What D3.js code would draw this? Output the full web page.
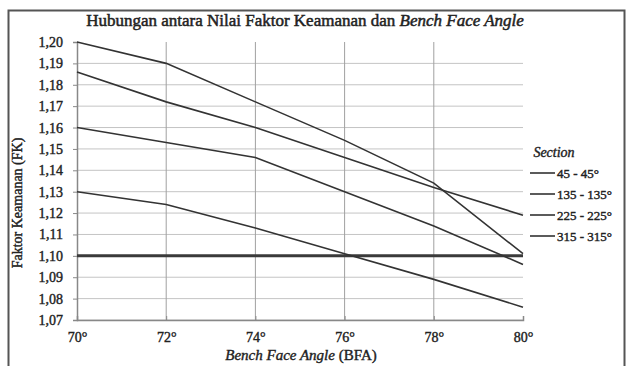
<!DOCTYPE html>
<html>
<head>
<meta charset="utf-8">
<script src="https://cdn.jsdelivr.net/npm/d3@7"></script>
<style>
  html, body { margin: 0; padding: 0; background: #fff; }
  svg { display: block; }
</style>
</head>
<body>
<svg id="chart" width="629" height="366"></svg>
<script>
// Bench face angle (degrees) at which the safety factor was computed
const angles = [70, 72, 74, 76, 78, 80];
// Safety factor (FK) for each slope section
const sectionNames = ["45 - 45°", "135 - 135°", "225 - 225°", "315 - 315°"];
const fk45  = [1.200, 1.190, 1.172, 1.154, 1.134, 1.101];
const fk135 = [1.186, 1.172, 1.160, 1.146, 1.132, 1.119];
const fk225 = [1.160, 1.153, 1.146, 1.130, 1.114, 1.096];
const fk315 = [1.130, 1.124, 1.113, 1.101, 1.089, 1.076];
// Minimum acceptable safety factor
const fkMin = 1.10;
// Axis ticks
const xTicks = [70, 72, 74, 76, 78, 80];
const yTicks = [1.07, 1.08, 1.09, 1.10, 1.11, 1.12, 1.13, 1.14, 1.15, 1.16, 1.17, 1.18, 1.19, 1.20];

const series = [fk45, fk135, fk225, fk315].map((v, i) => ({ name: sectionNames[i], values: v }));

const FONT = "Liberation Serif";
const ink = "#222";
const svg = d3.select("#chart");

// Heavier-looking serif text: regular face with a thin outline
function styleText(sel, size, weight = 0.4) {
  return sel.attr("font-family", FONT).attr("font-size", size)
    .attr("fill", ink).attr("stroke", ink).attr("stroke-width", weight);
}

const x = d3.scaleLinear().domain([70, 80]).range([77, 523]);
const y = d3.scaleLinear().domain([1.07, 1.20]).range([320, 42]);

// Outer frame
svg.append("rect")
  .attr("x", 8.5).attr("y", 10.5).attr("width", 616).attr("height", 362)
  .attr("fill", "none").attr("stroke", "#555").attr("stroke-width", 2);

// Title
const title = styleText(svg.append("text"), 17, 0.5)
  .attr("x", 305).attr("y", 26).attr("text-anchor", "middle");
title.append("tspan").text("Hubungan antara Nilai Faktor Keamanan dan ");
title.append("tspan").attr("font-style", "italic").text(" Bench Face Angle");

// Gridlines
svg.append("g").selectAll("line").data(yTicks.filter(t => t !== 1.20)).join("line")
  .attr("x1", x(70)).attr("x2", x(80))
  .attr("y1", d => y(d)).attr("y2", d => y(d))
  .attr("stroke", "#c4c4c4").attr("stroke-width", 1);
svg.append("g").selectAll("line").data(xTicks.slice(1, -1)).join("line")
  .attr("x1", d => x(d)).attr("x2", d => x(d))
  .attr("y1", y(1.20)).attr("y2", y(1.07))
  .attr("stroke", "#a0a0a0").attr("stroke-width", 1);

// Axes
const yAxis = svg.append("g").attr("transform", `translate(${x(70)},0)`)
  .call(d3.axisLeft(y).tickValues(yTicks).tickSize(4).tickPadding(10)
    .tickFormat(d => d3.format(".2f")(d).replace(".", ",")));
const xAxis = svg.append("g").attr("transform", `translate(0,${y(1.07)})`)
  .call(d3.axisBottom(x).tickValues(xTicks).tickSize(-4).tickPadding(12)
    .tickFormat(d => d + "°"));
[yAxis, xAxis].forEach(g => {
  g.select(".domain").attr("stroke", "#888").attr("stroke-width", 1.5);
  g.selectAll(".tick line").attr("stroke", "#888");
  styleText(g.selectAll(".tick text"), 14);
});

// Minimum safety factor line
svg.append("line")
  .attr("x1", x(70)).attr("x2", x(80))
  .attr("y1", y(fkMin)).attr("y2", y(fkMin))
  .attr("stroke", "#3a3a3a").attr("stroke-width", 3);

// Section lines
const line = d3.line().x((d, i) => x(angles[i])).y(d => y(d));
svg.append("g").selectAll("path").data(series).join("path")
  .attr("d", d => line(d.values))
  .attr("fill", "none").attr("stroke", "#333").attr("stroke-width", 1.6);

// Axis titles
styleText(svg.append("text"), 14)
  .attr("transform", "translate(22,203) rotate(-90)")
  .attr("text-anchor", "middle").text("Faktor Keamanan (FK)");
const xTitle = styleText(svg.append("text"), 15)
  .attr("x", 301).attr("y", 360).attr("text-anchor", "middle");
xTitle.append("tspan").attr("font-style", "italic").text("Bench Face Angle");
xTitle.append("tspan").text(" (BFA)");

// Legend
const legend = svg.append("g").attr("transform", "translate(530,0)");
styleText(legend.append("text"), 14)
  .attr("x", 24).attr("y", 157).attr("text-anchor", "middle")
  .attr("font-style", "italic").text("Section");
const item = legend.selectAll("g.item").data(series).join("g")
  .attr("class", "item")
  .attr("transform", (d, i) => `translate(0,${173 + i * 21})`);
item.append("line").attr("x1", 0).attr("x2", 25)
  .attr("stroke", "#333").attr("stroke-width", 1.6);
styleText(item.append("text"), 13)
  .attr("x", 27).attr("y", 4.5)
  .text(d => d.name);
</script>
</body>
</html>
